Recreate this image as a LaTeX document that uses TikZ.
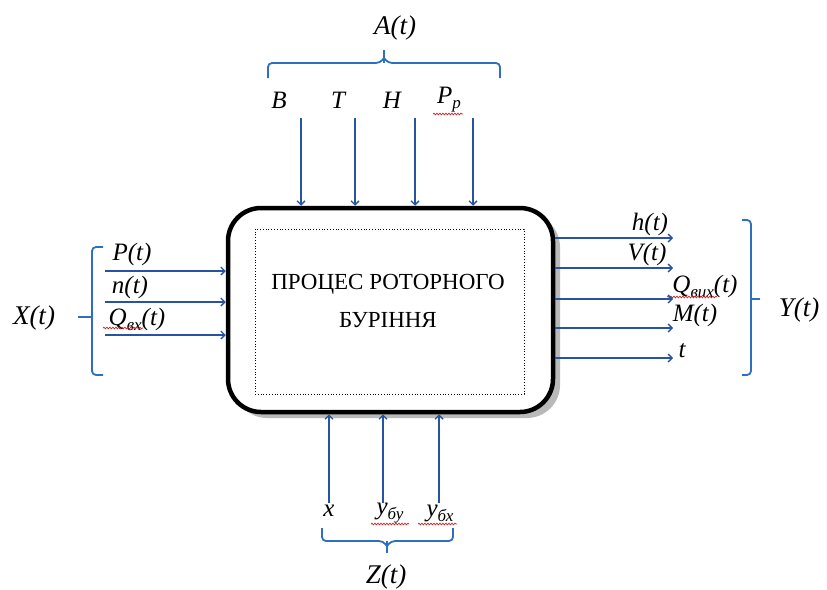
\documentclass[tikz,border=0pt]{standalone}
\usepackage{fontspec}
\setmainfont{Liberation Serif}
\usetikzlibrary{arrows.meta,decorations.pathmorphing}
\definecolor{arrblue}{RGB}{38,84,160}
\definecolor{braceblue}{RGB}{46,112,190}
\definecolor{spellred}{RGB}{200,40,40}
\tikzset{
  lbl/.style={inner sep=0pt, font=\itshape\fontsize{25}{28}\selectfont},
  grp/.style={inner sep=0pt, font=\itshape\fontsize{27}{30}\selectfont},
  arr/.style={draw=arrblue, line width=1.4pt, -{Straight Barb[length=4pt,width=8pt]}},
  brace/.style={draw=braceblue, line width=1.8pt, rounded corners=4pt},
  squiggle/.style={draw=spellred, line width=0.7pt, decorate,
    decoration={snake, amplitude=0.9pt, segment length=3pt}},
}
\newcommand{\sbs}[1]{\raisebox{-5pt}{\fontsize{17}{19}\selectfont #1}}
\begin{document}
\begin{tikzpicture}[x=1pt,y=-1pt]
\useasboundingbox (0,0) rectangle (827,589);

% process block: shadow, outline, dotted inner frame
\fill[gray!55, rounded corners=33pt] (234,214) rectangle (560,418);
\node[draw=black, fill=white, line width=4.5pt, rounded corners=33pt,
      minimum width=325pt, minimum height=204pt, inner sep=0pt] (proc) at (390.5,310) {};
\node[draw=black, dotted, line width=0.8pt, minimum width=269pt, minimum height=165pt,
      inner sep=0pt] (inner) at (389.5,311.5) {};
\node[align=center, font=\fontsize{23}{38}\selectfont, inner sep=0pt] (title) at (388,301)
  {ПРОЦЕС РОТОРНОГО\\БУРІННЯ};

% top group A(t)
\node[grp] (A) at (395,28) {A(t)};
\path[brace] (268,78) -- (268,63) -- (380,63) -- (384,58);
\path[brace] (500,78) -- (500,63) -- (388,63) -- (384,58);
\draw[draw=braceblue, line width=1.8pt] (384,63) -- (384,50);
\node[lbl] (B) at (279,100) {B};
\node[lbl] (T) at (338,100) {T};
\node[lbl] (H) at (392,100) {H};
\node[lbl] (Pp) at (449,100) {P\sbs{р}};
\draw[squiggle] (433,114) -- (463,114);
\foreach \n/\x in {a1/301, a2/355, a3/415, a4/473}{
  \coordinate (\n) at (\x,118);
  \draw[arr] (\n) -- (\n |- proc.north);
}

% left group X(t)
\node[grp] (X) at (34,318) {X(t)};
\path[brace] (103,247) -- (92,247) -- (92,375) -- (103,375);
\draw[draw=braceblue, line width=1.8pt] (92,317) -- (78,317);
\node[lbl] (P) at (132,254) {P(t)};
\node[lbl] (n) at (130,287) {n(t)};
\node[lbl] (Qin) at (137,319) {Q\sbs{вх}(t)};
\draw[squiggle] (103,328) -- (143,328);
\foreach \n/\y in {b1/271, b2/302, b3/335}{
  \coordinate (\n) at (105,\y);
  \draw[arr] (\n) -- (\n -| proc.west);
}

% right group Y(t)
\node[grp] (Y) at (799,310) {Y(t)};
\path[brace] (742,220) -- (751,220) -- (751,375) -- (742,375);
\draw[draw=braceblue, line width=1.8pt] (751,299) -- (760,299);
\node[lbl] (h) at (650,224) {h(t)};
\node[lbl] (V) at (647,254) {V(t)};
\node[lbl] (Qout) at (705,286) {Q\sbs{вих}(t)};
\draw[squiggle] (667,297) -- (717,297);
\node[lbl] (M) at (695,315) {M(t)};
\node[lbl] (t) at (682,351) {t};
\foreach \n/\y in {c1/238, c2/268, c3/299, c4/328, c5/358}{
  \coordinate (\n) at (673,\y);
  \draw[arr] (\n -| proc.east) -- (\n);
}

% bottom group Z(t)
\node[lbl] (x) at (329,511) {x};
\node[lbl] (ybu) at (390,513) {y\sbs{бу}};
\node[lbl] (ybh) at (440,513) {y\sbs{бх}};
\draw[squiggle] (371,524) -- (409,524);
\draw[squiggle] (418,524) -- (457,524);
\path[brace] (322,528) -- (322,541) -- (383,541) -- (387,546);
\path[brace] (453,528) -- (453,541) -- (391,541) -- (387,546);
\draw[draw=braceblue, line width=1.8pt] (387,541) -- (387,553);
\node[grp] (Z) at (386,577) {Z(t)};
\foreach \n/\x in {d1/329, d2/383, d3/439}{
  \coordinate (\n) at (\x,503);
  \draw[arr] (\n) -- (\n |- proc.south);
}
\end{tikzpicture}
\end{document}
